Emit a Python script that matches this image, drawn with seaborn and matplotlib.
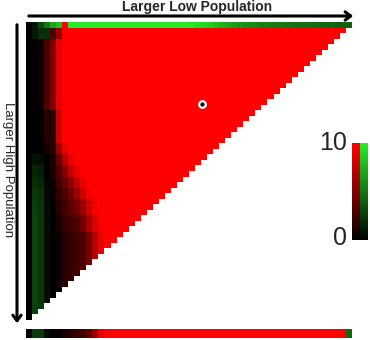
import numpy as np
import matplotlib
matplotlib.use("Agg")
import matplotlib.pyplot as plt
import seaborn as sns
from matplotlib.colors import LinearSegmentedColormap
from matplotlib.patches import FancyArrowPatch

sns.set_theme(style="white")
plt.rcParams["font.family"] = ["Liberation Sans", "DejaVu Sans"]

# ---------------- data (signed: >0 red intensity, <0 green intensity) ----------
N = 54
top_row = ([0, -1, -3, -5, -7, -8, 10] + [-10] * 20 +
           [-9.8, -9.4, -9.0, -8.6, -8.1, -7.6, -7.1, -6.7, -6.3, -6.0,
            -5.8, -5.6, -5.4, -5.3, -5.2, -5.1, -5.0, -4.9, -4.8, -4.7,
            -4.6, -4.5, -4.4, -4.3, -4.2, -4.1, -4.0])
bottom_strip = [0, -2.5, -2.5, -0.5, 0, 0, 1, 1.5, 2, 2.5, 3.5, 6, 9] + [10] * 40 + [-4.5]

band_starts = [1, 3, 16, 22, 24, 26, 28, 30, 32, 35, 38]
band_ends = [3, 16, 22, 24, 26, 28, 30, 32, 35, 38, 54]
band_profiles = [
    [0, -1, -2, -2, 3, 6],
    [0, 0, 0.5, 3, 5, 9],
    [0, 0, 0, 1.5, 1.5, 8],
    [0, 0, 0, 1, 1.5, 6, 9],
    [0, -0.8, -0.6, 0, 1, 4, 7, 9],
    [0, -1.5, -1.2, 0, 1, 3, 5, 7.5, 9],
    [0, -2, -1.6, -0.3, 0.5, 2.5, 4, 5.5, 7.5, 9],
    [0, -2.4, -2, -0.4, 0.5, 2, 3, 4.5, 6, 8, 9.5],
    [0, -2.7, -2.2, -0.5, 0, 1.5, 2.5, 3.5, 4.5, 6, 8, 9.5],
    [0, -2.8, -2.3, -0.5, 0, 1, 2, 2.5, 3, 4.5, 6.5, 8.5, 9.7],
    [0, -2.8, -2.3, -0.5, 0, 0.5, 1.5, 2, 2.5, 3, 4.5, 7, 9],
]
fill_value = 10
dot_col, dot_row = 29.1, 14.9
cbar_min, cbar_max = 0, 10
x_label = "Larger Low Population"
y_label = "Larger High Population"

# ---------------- build matrix -------------------------------------------------
M = np.full((N, N), float(fill_value))
M[0, :] = top_row
for s, e, prof in zip(band_starts, band_ends, band_profiles):
    for r in range(s, e):
        M[r, :len(prof)] = prof
mask = np.zeros((N, N), dtype=bool)
for r in range(N):
    mask[r, N - r:] = True

cmap = LinearSegmentedColormap.from_list(
    "gkr", [(0.0, (0.15, 0.92, 0.15)), (0.5, (0, 0, 0)), (1.0, (1, 0, 0))])

W, H = 370, 340
fig = plt.figure(figsize=(W / 100, H / 100), dpi=100)

def ax_px(x0, y0, x1, y1):
    return fig.add_axes([x0 / W, 1 - y1 / H, (x1 - x0) / W, (y1 - y0) / H])

ax = ax_px(26, 22, 352, 320)
sns.heatmap(M, mask=mask, cmap=cmap, vmin=-10, vmax=10, cbar=False,
            xticklabels=False, yticklabels=False, ax=ax)
ax.scatter([dot_col], [dot_row], s=22, c="black", edgecolors="white",
           linewidths=1.6, zorder=5)
ax.set_facecolor("white")

axb = ax_px(26, 329, 352, 338)
sns.heatmap(np.array([bottom_strip]), cmap=cmap, vmin=-10, vmax=10, cbar=False,
            xticklabels=False, yticklabels=False, ax=axb)

axc = ax_px(352, 143, 368, 240)
grad = np.linspace(cbar_max, cbar_min, 60)
cb = np.column_stack([grad, -grad])
sns.heatmap(cb, cmap=cmap, vmin=-10, vmax=10, cbar=False,
            xticklabels=False, yticklabels=False, ax=axc)

ov = fig.add_axes([0, 0, 1, 1])
ov.set_xlim(0, W)
ov.set_ylim(H, 0)
ov.axis("off")
ov.patch.set_alpha(0)
ov.text(197, 7, x_label, ha="center", va="center", fontsize=10, fontweight="bold")
ov.add_patch(FancyArrowPatch((26, 16), (356, 16), arrowstyle="->,head_width=3,head_length=4",
                             lw=2.2, color="black", mutation_scale=1))
ov.add_patch(FancyArrowPatch((17, 22), (17, 326), arrowstyle="->,head_width=3,head_length=4",
                             lw=2.2, color="black", mutation_scale=1))
ov.text(8, 170, y_label, ha="center", va="center", rotation=270, fontsize=9.5)
ov.text(347, 143, str(cbar_max), ha="right", va="center", fontsize=18)
ov.text(347, 238, str(cbar_min), ha="right", va="center", fontsize=18)

fig.savefig("out.png", dpi=100)
